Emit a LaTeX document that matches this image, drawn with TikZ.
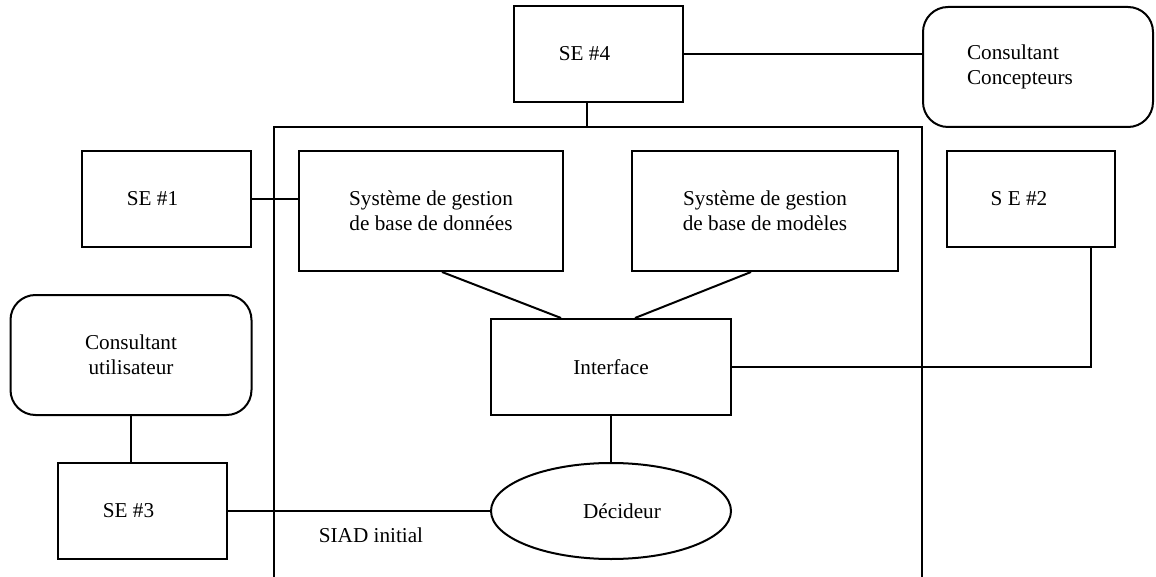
\documentclass[tikz,border=0pt]{standalone}
\usepackage{fontspec}
\setmainfont{Liberation Serif}
\usetikzlibrary{shapes.geometric,calc}
\begin{document}
\begin{tikzpicture}[x=1pt,y=-1pt,
  every node/.style={font=\fontsize{21.2}{25}\selectfont},
  box/.style={draw, line width=2pt, rectangle, inner sep=0pt, align=center},
  rbox/.style={box, rounded corners=25pt},
  conn/.style={line width=2pt},
  frame/.style={line width=2pt}]
\useasboundingbox (0,0) rectangle (1156,577);
% nodes
\node[box, minimum width=169pt, minimum height=96pt] (se4) at (598.5,54) {SE \#4\hspace{28pt}};
\node[rbox, minimum width=230pt, minimum height=120pt, text width=142pt, inner xsep=44pt, align=left] (cc) at (1038,67) {Consultant\\Concepteurs};
\node[box, minimum width=169pt, minimum height=96pt] (se1) at (166.5,199) {SE \#1\hspace{28pt}};
\node[box, minimum width=264pt, minimum height=120pt] (db) at (431,211) {Système de gestion\\de base de données};
\node[box, minimum width=266pt, minimum height=120pt] (mb) at (765,211) {Système de gestion\\de base de modèles};
\node[box, minimum width=168pt, minimum height=96pt] (se2) at (1031,199) {S E \#2\hspace{24pt}};
\node[rbox, minimum width=241pt, minimum height=120pt] (cu) at (131,355) {Consultant\\utilisateur};
\node[box, minimum width=240pt, minimum height=96pt] (iface) at (611,367) {Interface};
\node[box, minimum width=169pt, minimum height=96pt] (se3) at (142.5,511) {SE \#3\hspace{28pt}};
\node[draw, line width=2pt, ellipse, inner sep=0pt, minimum width=240pt, minimum height=96pt] (dec) at (611,511) {\hspace{22pt}Décideur};
\node (siad) at (371,535) {SIAD initial};
% SIAD frame (open at the bottom)
\coordinate (fbl) at (274,577);
\coordinate (ftl) at (274,127);
\coordinate (ftr) at (922,127);
\coordinate (fbr) at (922,577);
\draw[frame] (fbl) -- (ftl) -- (ftr) -- (fbr);
\coordinate (c4) at (587,127);
% connectors
\draw[conn] (se4.south -| c4) -- (c4);
\draw[conn] (se4.east) -- (se4.east -| cc.west);
\draw[conn] (se1.east) -- (se1.east -| db.west);
\draw[conn] ([xshift=144pt]db.south west) -- ([xshift=71pt]iface.north west);
\draw[conn] ([xshift=120pt]mb.south west) -- ([xshift=145pt]iface.north west);
\draw[conn] (iface.south) -- (dec.north);
\draw[conn] (iface.east) -| ([xshift=60pt]se2.south);
\draw[conn] (cu.south) -- (cu.south |- se3.north);
\draw[conn] (se3.east) -- (dec.west);
\end{tikzpicture}
\end{document}
